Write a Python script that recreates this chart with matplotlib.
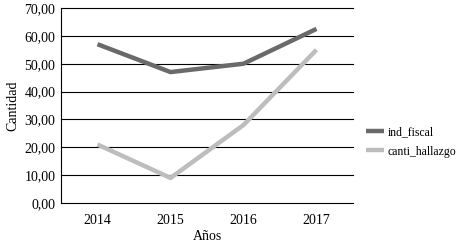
import matplotlib
matplotlib.use('Agg')
import matplotlib.pyplot as plt
import numpy as np

plt.rcParams['font.family'] = 'Liberation Serif'

years = ['2014', '2015', '2016', '2017']
ind_fiscal = [57.0, 47.0, 50.0, 62.5]
canti_hallazgo = [21.0, 9.0, 28.0, 55.0]

fig = plt.figure(figsize=(4.62, 2.46), dpi=100)
ax = fig.add_axes([61 / 462, 1 - 203 / 246, 292 / 462, 195 / 246])

x = np.arange(len(years))
ax.plot(x, ind_fiscal, color='#6a6a6a', lw=3.2, label='ind_fiscal', solid_capstyle='butt')
ax.plot(x, canti_hallazgo, color='#bdbdbd', lw=3.2, label='canti_hallazgo', solid_capstyle='butt')

ax.set_xlim(-0.5, len(years) - 0.5)
ax.set_ylim(0, 70)
ax.set_yticks(np.arange(0, 71, 10))
ax.set_yticklabels(['%d,00' % v for v in range(0, 71, 10)])
ax.set_xticks(x)
ax.set_xticklabels(years)
ax.yaxis.grid(True, color='black', lw=0.8, clip_on=False)
ax.set_axisbelow(True)
for s in ['top', 'right', 'bottom']:
    ax.spines[s].set_visible(False)
ax.spines['left'].set_linewidth(0.8)
ax.tick_params(axis='both', length=0, labelsize=10, pad=4)
ax.tick_params(axis='x', pad=8)
ax.set_xlabel('Años', fontsize=10, labelpad=2)
ax.set_ylabel('Cantidad', fontsize=10, labelpad=4)

fig.legend(loc='center left', bbox_to_anchor=(366 / 462, 1 - 142 / 246), frameon=False,
           fontsize=8.5, handlelength=1.5, handletextpad=0.35, labelspacing=0.6,
           borderpad=0, borderaxespad=0)

fig.savefig('out.png', dpi=100)
